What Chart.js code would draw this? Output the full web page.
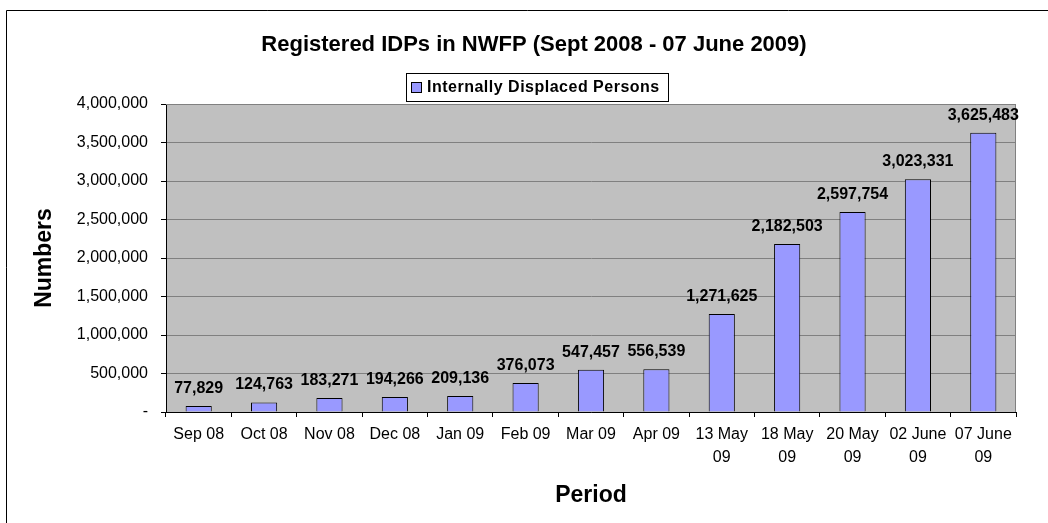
<!DOCTYPE html>
<html>
<head>
<meta charset="utf-8">
<script src="https://cdn.jsdelivr.net/npm/chart.js@4"></script>
<style>
  html, body { margin: 0; padding: 0; background: #fff; }
  #wrap { width: 1048px; height: 523px; position: relative; }
</style>
</head>
<body>
<div id="wrap"><canvas id="idpChart" width="1048" height="523"></canvas></div>
<script>
// données
const periods = ['Sep 08', 'Oct 08', 'Nov 08', 'Dec 08', 'Jan 09', 'Feb 09', 'Mar 09', 'Apr 09',
    ['13 May', '09'], ['18 May', '09'], ['20 May', '09'], ['02 June', '09'], ['07 June', '09']];
const idpCounts = [77829, 124763, 183271, 194266, 209136, 376073, 547457, 556539,
    1271625, 2182503, 2597754, 3023331, 3625483];
const seriesName = 'Internally Displaced Persons';
const chartTitle = 'Registered IDPs in NWFP (Sept 2008 - 07 June 2009)';
const yMax = 4000000;
const yStep = 500000;

const FONT = "'Liberation Sans', Arial, sans-serif";
const fmt = v => v.toLocaleString('en-US');

// fond gris de la zone de tracé + cadre extérieur + titre
const frame = {
    id: 'frame',
    beforeDraw(chart) {
        const { ctx, chartArea: a } = chart;
        ctx.save();
        ctx.fillStyle = '#fff';
        ctx.fillRect(0, 0, chart.width, chart.height);
        ctx.strokeStyle = '#000';
        ctx.lineWidth = 1;
        ctx.beginPath();
        ctx.moveTo(6.5, chart.height + 5);
        ctx.lineTo(6.5, 10.5);
        ctx.lineTo(chart.width + 5, 10.5);
        ctx.stroke();
        ctx.fillStyle = '#c0c0c0';
        ctx.fillRect(a.left, a.top, a.right - a.left, a.bottom - a.top);

        ctx.fillStyle = '#000';
        ctx.font = 'bold 22px ' + FONT;
        ctx.textAlign = 'center';
        ctx.textBaseline = 'middle';
        ctx.fillText(chartTitle, 534, 45);
        ctx.restore();
    },
    beforeDatasetsDraw(chart) {
        const { ctx, chartArea: a } = chart;
        ctx.save();
        ctx.strokeStyle = '#808080';
        ctx.lineWidth = 1;
        ctx.beginPath();
        ctx.moveTo(a.left, Math.round(a.top) + 0.5);
        ctx.lineTo(Math.round(a.right) - 0.5, Math.round(a.top) + 0.5);
        ctx.lineTo(Math.round(a.right) - 0.5, a.bottom);
        ctx.stroke();
        ctx.restore();
    }
};

// étiquettes de valeurs au-dessus des barres + légende encadrée
const labels = {
    id: 'labels',
    afterDatasetsDraw(chart) {
        const { ctx } = chart;
        const meta = chart.getDatasetMeta(0);
        ctx.save();
        ctx.font = 'bold 16px ' + FONT;
        ctx.fillStyle = '#000';
        ctx.textAlign = 'center';
        ctx.textBaseline = 'alphabetic';
        meta.data.forEach((bar, i) => {
            ctx.fillText(fmt(chart.data.datasets[0].data[i]), bar.x, bar.y - 13);
        });

        // légende
        const ds = chart.data.datasets[0];
        const lx = 406, ly = 73, lw = 262, lh = 28;
        ctx.fillStyle = '#fff';
        ctx.fillRect(lx, ly, lw, lh);
        ctx.strokeStyle = '#000';
        ctx.strokeRect(lx + 0.5, ly + 0.5, lw, lh);
        ctx.fillStyle = ds.backgroundColor;
        ctx.fillRect(411.5, 82.5, 10, 10);
        ctx.strokeRect(411.5, 82.5, 10, 10);
        ctx.fillStyle = '#000';
        ctx.textAlign = 'left';
        ctx.textBaseline = 'middle';
        ctx.letterSpacing = '0.5px';
        ctx.fillText(ds.label, 427, 88);
        ctx.restore();
    }
};

new Chart(document.getElementById('idpChart'), {
    type: 'bar',
    data: {
        labels: periods,
        datasets: [{
            label: seriesName,
            data: idpCounts,
            backgroundColor: '#9999ff',
            borderColor: '#000',
            borderWidth: 1,
            barPercentage: 0.4,
            categoryPercentage: 1
        }]
    },
    plugins: [frame, labels],
    options: {
        responsive: false,
        animation: false,
        layout: { padding: { top: 104, right: 32, left: 0, bottom: 0 } },
        plugins: {
            legend: { display: false },
            tooltip: { enabled: false },
            title: { display: false }
        },
        scales: {
            x: {
                afterFit: s => { s.height = 111; },
                grid: { drawOnChartArea: false, drawTicks: true, tickLength: 5, tickColor: '#000' },
                border: { color: '#000' },
                ticks: {
                    color: '#000',
                    font: { family: FONT, size: 16, lineHeight: '23px' },
                    padding: 6,
                    maxRotation: 0,
                    autoSkip: false
                },
                title: {
                    display: true,
                    text: 'Period',
                    color: '#000',
                    font: { family: FONT, size: 23, weight: 'bold' },
                    padding: { top: 0, bottom: 13.2 }
                }
            },
            y: {
                min: 0,
                max: yMax,
                afterFit: s => { s.width = 166; },
                grid: { color: '#808080', tickLength: 5, tickColor: '#000' },
                border: { color: '#000' },
                ticks: {
                    stepSize: yStep,
                    color: '#000',
                    padding: 13,
                    font: { family: FONT, size: 16 },
                    callback: v => v === 0 ? '-' : fmt(v)
                },
                title: {
                    display: true,
                    text: 'Numbers',
                    color: '#000',
                    font: { family: FONT, size: 23, weight: 'bold' },
                    padding: { top: 31, bottom: 0 }
                }
            }
        }
    }
});
</script>
</body>
</html>
